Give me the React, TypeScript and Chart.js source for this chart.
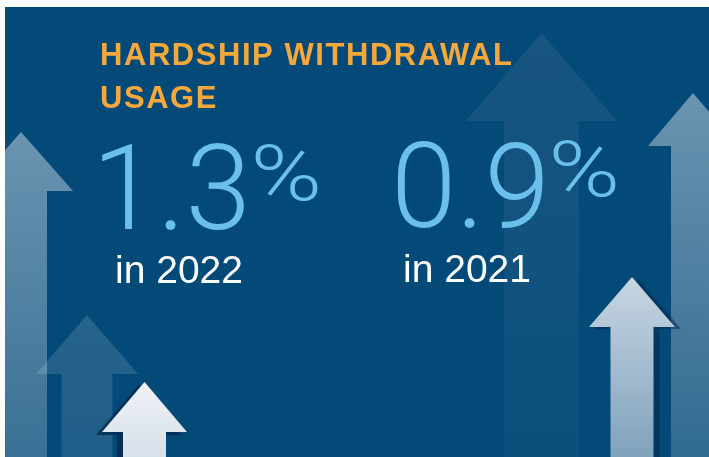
import { useEffect, useRef } from "react";
import { Chart, registerables } from "chart.js";

Chart.register(...registerables);

// ---- data ----
const titleLines = ["HARDSHIP WITHDRAWAL", "USAGE"];
const usageYears = ["2022", "2021"];
const usageRates = [1.3, 0.9];

// ---- layout / style (image coordinates) ----
const PANEL = { left: 5, top: 7, right: 709, bottom: 457 };
const BG = "#034a79";
const TITLE_COLOR = "#f6a83c";
const NUM_COLOR = "#6ac0ea";

type Arrow = {
  x: number; tip: number; base: number; head: number; shaft: number;
  top: string; bottom: string;
  shadow?: { dx: number; dy: number; color: string; blur: number };
};

const ARROWS: Arrow[] = [
  { x: 541.5, tip: 33, base: 121, head: 75.5, shaft: 37.5, top: "#175580", bottom: "#0c4f7d" },
  { x: 21, tip: 132, base: 191, head: 52, shaft: 26, top: "rgba(255,255,255,0.41)", bottom: "rgba(255,255,255,0.21)" },
  { x: 693, tip: 93, base: 146, head: 45, shaft: 22, top: "rgba(255,255,255,0.41)", bottom: "rgba(255,255,255,0.18)" },
  { x: 87, tip: 315, base: 374, head: 51, shaft: 25.5, top: "rgba(255,255,255,0.14)", bottom: "rgba(255,255,255,0.11)" },
  { x: 144.5, tip: 382, base: 432, head: 42.5, shaft: 21.5, top: "#eef2f6", bottom: "#d6e0e9",
    shadow: { dx: -6, dy: 3, color: "rgba(1,40,78,0.8)", blur: 1 } },
  { x: 632, tip: 277, base: 327, head: 43, shaft: 21.5, top: "#c8d6e2", bottom: "#7fa1bb",
    shadow: { dx: 6, dy: 2, color: "rgba(1,40,78,0.55)", blur: 1 } },
];

const TITLE_POS = { left: 100, base: [65, 108], size: 31, width: 412 };
const STAT_POS = [
  { left: 102, base: 229, pctTop: 144, yearLeft: 117, yearBase: 283 },
  { left: 397, base: 227, pctTop: 140, yearLeft: 405, yearBase: 282 },
];
const DIGIT_H = 86;
const PCT_H = 58;
const PCT_W = 63;
const PCT_GAP = 11;
const YEAR_FONT = "39px 'Liberation Sans', Arial, sans-serif";
const NUM_FAMILY = "Roboto, 'Liberation Sans', sans-serif";

function drawArrow(ctx: CanvasRenderingContext2D, xs: any, ys: any, a: Arrow) {
  const px = (v: number) => xs.getPixelForValue(v);
  const py = (v: number) => ys.getPixelForValue(v);
  const cx = px(a.x);
  const tip = py(a.tip);
  const base = py(a.base);
  const bot = py(PANEL.bottom) + 2;
  const hl = px(a.x - a.head), hr = px(a.x + a.head);
  const sl = px(a.x - a.shaft), sr = px(a.x + a.shaft);
  ctx.save();
  ctx.beginPath();
  ctx.moveTo(cx, tip);
  ctx.lineTo(hr, base);
  ctx.lineTo(sr, base);
  ctx.lineTo(sr, bot);
  ctx.lineTo(sl, bot);
  ctx.lineTo(sl, base);
  ctx.lineTo(hl, base);
  ctx.closePath();
  const g = ctx.createLinearGradient(0, tip, 0, bot);
  g.addColorStop(0, a.top);
  g.addColorStop(1, a.bottom);
  if (a.shadow) {
    ctx.shadowColor = a.shadow.color;
    ctx.shadowOffsetX = a.shadow.dx;
    ctx.shadowOffsetY = a.shadow.dy;
    ctx.shadowBlur = a.shadow.blur;
  }
  ctx.fillStyle = g;
  ctx.fill();
  ctx.restore();
}

const infographicPlugin = {
  id: "infographic",
  beforeDraw(chart: any) {
    const { ctx, scales } = chart;
    ctx.save();
    ctx.fillStyle = BG;
    ctx.fillRect(0, 0, chart.width, chart.height);
    for (const a of ARROWS) drawArrow(ctx, scales.x, scales.y, a);
    ctx.restore();
  },
  afterDraw(chart: any) {
    const { ctx, scales } = chart;
    const px = (v: number) => scales.x.getPixelForValue(v);
    const py = (v: number) => scales.y.getPixelForValue(v);
    ctx.save();
    ctx.textAlign = "left";
    ctx.textBaseline = "alphabetic";

    // title
    ctx.fillStyle = TITLE_COLOR;
    ctx.font = `bold ${TITLE_POS.size}px 'Liberation Sans', Arial, sans-serif`;
    const w0 = ctx.measureText(titleLines[0]).width;
    const spacing = (TITLE_POS.width - w0) / (titleLines[0].length - 1);
    (ctx as any).letterSpacing = `${spacing}px`;
    titleLines.forEach((line, i) => ctx.fillText(line, px(TITLE_POS.left), py(TITLE_POS.base[i])));
    (ctx as any).letterSpacing = "0px";

    // stats
    usageRates.forEach((rate, i) => {
      const pos = STAT_POS[i];
      const txt = rate.toFixed(1);
      ctx.font = `300 100px ${NUM_FAMILY}`;
      const m100 = ctx.measureText("0123456789");
      const size = (DIGIT_H / m100.actualBoundingBoxAscent) * 100;
      ctx.font = `300 ${size}px ${NUM_FAMILY}`;
      const m = ctx.measureText(txt);
      const x = px(pos.left) + m.actualBoundingBoxLeft;
      const base = py(pos.base);
      ctx.fillStyle = NUM_COLOR;
      ctx.fillText(txt, x, base);
      const right = x + m.actualBoundingBoxRight;

      // percent sign, superscript style, stretched to the reference proportions
      ctx.font = `300 100px ${NUM_FAMILY}`;
      const p100 = ctx.measureText("%");
      const psize = (PCT_H / (p100.actualBoundingBoxAscent + p100.actualBoundingBoxDescent)) * 100;
      ctx.font = `300 ${psize}px ${NUM_FAMILY}`;
      const pm = ctx.measureText("%");
      const gw = pm.actualBoundingBoxLeft + pm.actualBoundingBoxRight;
      const sx = gw > 0 ? PCT_W / gw : 1;
      const pTop = py(pos.pctTop);
      ctx.save();
      ctx.translate(right + PCT_GAP, pTop + pm.actualBoundingBoxAscent);
      ctx.scale(sx, 1);
      ctx.fillText("%", pm.actualBoundingBoxLeft, 0);
      ctx.restore();

      ctx.fillStyle = "#ffffff";
      ctx.font = YEAR_FONT;
      const yl = `in ${usageYears[i]}`;
      const ym = ctx.measureText(yl);
      ctx.fillText(yl, px(pos.yearLeft) + ym.actualBoundingBoxLeft, py(pos.yearBase));
    });
    ctx.restore();
  },
};

export default function App() {
  const ref = useRef<HTMLCanvasElement | null>(null);
  useEffect(() => {
    if (!ref.current) return;
    const chart = new Chart(ref.current, {
      type: "scatter",
      data: { datasets: [] },
      options: {
        animation: false,
        responsive: true,
        maintainAspectRatio: false,
        layout: { padding: 0 },
        events: [],
        plugins: { legend: { display: false }, tooltip: { enabled: false }, title: { display: false } },
        scales: {
          x: { type: "linear", min: PANEL.left, max: PANEL.right, display: false },
          y: { type: "linear", min: PANEL.top, max: PANEL.bottom, reverse: true, display: false },
        },
      },
      plugins: [infographicPlugin],
    });
    return () => chart.destroy();
  }, []);
  return (
    <div
      style={{
        position: "absolute",
        left: PANEL.left,
        top: PANEL.top,
        width: PANEL.right - PANEL.left,
        height: PANEL.bottom - PANEL.top,
      }}
    >
      <canvas ref={ref} />
    </div>
  );
}
